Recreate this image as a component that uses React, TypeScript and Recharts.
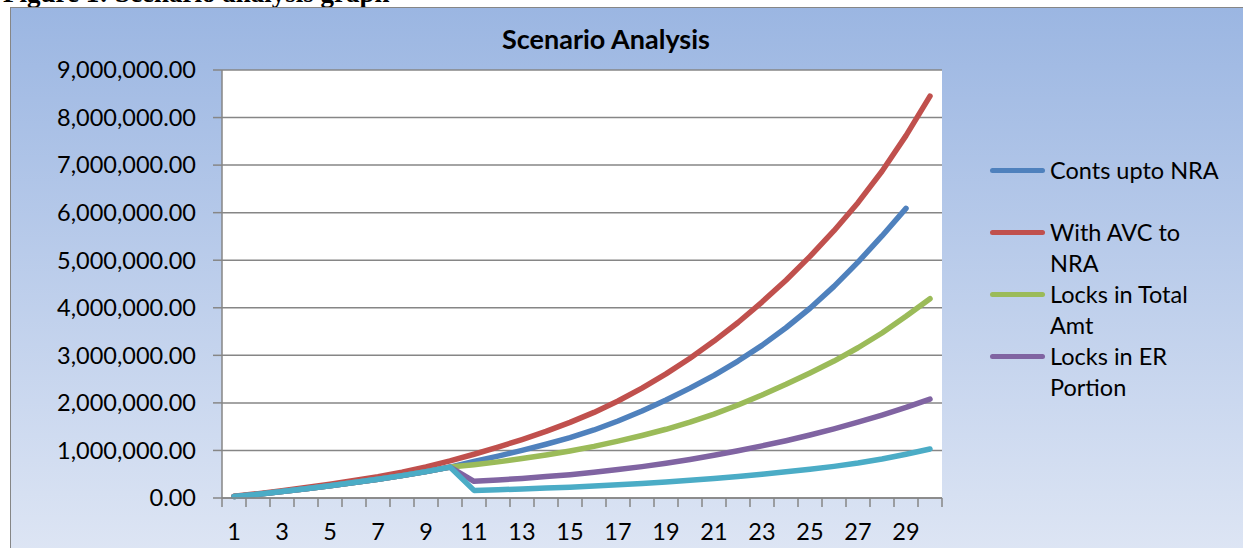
import React from "react";
import { CartesianGrid, Legend, Line, LineChart, XAxis, YAxis } from "recharts";

// policy years on the x axis
const years = [
  1, 2, 3, 4, 5, 6, 7, 8, 9, 10, 11, 12, 13, 14, 15, 16, 17, 18, 19, 20, 21, 22, 23, 24, 25, 26, 27, 28,
  29, 30,
];

// fund values per scenario (blue stops at year 29)
const contsUptoNra = [
  30000, 80000, 135000, 195000, 258000, 325000, 395000, 470000, 555000, 650000, 770000, 880000, 1000000,
  1130000, 1270000, 1430000, 1620000, 1830000, 2060000, 2310000, 2580000, 2880000, 3210000, 3580000,
  3990000, 4450000, 4960000, 5510000, 6090000,
];
const withAvcToNra = [
  35000, 92000, 155000, 222000, 292000, 368000, 450000, 545000, 655000, 780000, 920000, 1070000, 1230000,
  1400000, 1590000, 1800000, 2040000, 2310000, 2610000, 2940000, 3300000, 3690000, 4120000, 4580000,
  5080000, 5620000, 6210000, 6870000, 7620000, 8450000,
];
const locksInTotalAmt = [
  30000, 80000, 135000, 195000, 258000, 325000, 395000, 470000, 555000, 650000, 700000, 760000, 830000,
  905000, 990000, 1085000, 1195000, 1315000, 1445000, 1595000, 1765000, 1955000, 2165000, 2390000,
  2630000, 2880000, 3160000, 3470000, 3820000, 4190000,
];
const locksInErPortion = [
  30000, 80000, 135000, 195000, 258000, 325000, 395000, 470000, 555000, 650000, 350000, 380000, 410000,
  450000, 490000, 540000, 600000, 660000, 730000, 810000, 900000, 995000, 1095000, 1205000, 1325000,
  1455000, 1595000, 1745000, 1905000, 2080000,
];
const series5 = [
  30000, 80000, 135000, 195000, 258000, 325000, 395000, 470000, 555000, 650000, 160000, 175000, 190000,
  208000, 228000, 252000, 278000, 306000, 337000, 372000, 410000, 452000, 498000, 550000, 605000, 665000,
  735000, 820000, 920000, 1030000,
];

const yTicks = [0, 1000000, 2000000, 3000000, 4000000, 5000000, 6000000, 7000000, 8000000, 9000000];

const data = years.map((year, i) => ({
  year,
  conts: contsUptoNra[i] ?? null,
  avc: withAvcToNra[i] ?? null,
  total: locksInTotalAmt[i] ?? null,
  er: locksInErPortion[i] ?? null,
  s5: series5[i] ?? null,
}));

const FONT = "Lato, 'Liberation Sans', sans-serif";
const AXIS = "#868686";
const PLOT_W = 720;
const HALF = PLOT_W / years.length / 2;
const FS = 23.5;

const fmt = (v: number) =>
  v.toLocaleString("en-US", { minimumFractionDigits: 2, maximumFractionDigits: 2 });

function YearTick(props: any) {
  const { x, y, payload } = props;
  const last = payload.value === years[years.length - 1];
  return (
    <g>
      <line x1={x - HALF} x2={x - HALF} y1={y} y2={y + 9} stroke={AXIS} strokeWidth={1.5} />
      {last && <line x1={x + HALF} x2={x + HALF} y1={y} y2={y + 9} stroke={AXIS} strokeWidth={1.5} />}
      {payload.value % 2 === 1 && (
        <text
          x={x}
          y={y + 33}
          textAnchor="middle"
          dominantBaseline="central"
          fontFamily={FONT}
          fontSize={FS}
          fill="#000"
        >
          {payload.value}
        </text>
      )}
    </g>
  );
}

function renderLegend(props: any) {
  const items = (props.payload || []).filter((item: any) => item.type !== "none");
  return (
    <div style={{ fontFamily: FONT, fontSize: FS, color: "#000" }}>
      {items.map((item: any) => (
        <div key={item.value} style={{ display: "flex", alignItems: "flex-start", height: 62 }}>
          <span
            style={{
              flex: "none",
              width: 55,
              height: 5,
              borderRadius: 3,
              background: item.color,
              marginTop: 13,
              marginRight: 5,
            }}
          />
          <span style={{ width: 174, lineHeight: "31px" }}>{item.value}</span>
        </div>
      ))}
    </div>
  );
}

export default function App() {
  return (
    <div style={{ position: "absolute", left: 0, top: 0, width: 1243, height: 548, overflow: "hidden" }}>
      <div
        style={{
          position: "absolute",
          left: 3,
          top: -22,
          fontFamily: "'Liberation Serif', serif",
          fontWeight: "bold",
          fontSize: 27,
          whiteSpace: "nowrap",
        }}
      >
        Figure 1: Scenario analysis graph
      </div>
      <div
        style={{
          position: "absolute",
          left: 10,
          top: 7,
          width: 1260,
          height: 560,
          borderTop: `1.5px solid ${AXIS}`,
          borderLeft: `1.5px solid ${AXIS}`,
          background: "linear-gradient(180deg, #9BB6E2 0%, #DDE5F4 97%)",
        }}
      />
      <div
        style={{
          position: "absolute",
          left: 0,
          width: 1212,
          top: 22,
          textAlign: "center",
          fontFamily: FONT,
          fontWeight: "bold",
          fontSize: 27,
          color: "#000",
        }}
      >
        Scenario Analysis
      </div>
      <div style={{ position: "absolute", left: 0, top: 0 }}>
        <LineChart width={1243} height={548} data={data} margin={{ top: 70, right: 301, bottom: 20, left: 10 }}>
          <CartesianGrid vertical={false} fill="#fff" stroke={AXIS} strokeWidth={1.5} />
          <XAxis
            dataKey="year"
            interval={0}
            height={30}
            padding={{ left: HALF, right: HALF }}
            axisLine={{ stroke: AXIS, strokeWidth: 1.5 }}
            tickLine={false}
            tickSize={0}
            tickMargin={0}
            tick={<YearTick />}
          />
          <YAxis
            width={212}
            domain={[0, 9000000]}
            ticks={yTicks}
            interval={0}
            tickFormatter={fmt}
            axisLine={{ stroke: AXIS, strokeWidth: 1.5 }}
            tickLine={{ stroke: AXIS, strokeWidth: 1.5 }}
            tickSize={9}
            tickMargin={17}
            tick={{ fill: "#000", fontFamily: FONT, fontSize: FS }}
          />
          <Legend
            layout="vertical"
            align="center"
            verticalAlign="middle"
            itemSorter={null}
            wrapperStyle={{ left: 990, top: 155, width: 250 }}
            content={renderLegend}
          />
          <Line type="linear" dataKey="conts" name="Conts upto NRA" stroke="#4F81BD" strokeWidth={5.5} dot={false} strokeLinecap="round" strokeLinejoin="round" isAnimationActive={false} />
          <Line type="linear" dataKey="avc" name="With AVC to NRA" stroke="#C0504D" strokeWidth={5.5} dot={false} strokeLinecap="round" strokeLinejoin="round" isAnimationActive={false} />
          <Line type="linear" dataKey="total" name="Locks in Total Amt" stroke="#9BBB59" strokeWidth={5.5} dot={false} strokeLinecap="round" strokeLinejoin="round" isAnimationActive={false} />
          <Line type="linear" dataKey="er" name="Locks in ER Portion" stroke="#8064A2" strokeWidth={5.5} dot={false} strokeLinecap="round" strokeLinejoin="round" isAnimationActive={false} />
          <Line type="linear" dataKey="s5" name="Series5" legendType="none" stroke="#4BACC6" strokeWidth={5.5} dot={false} strokeLinecap="round" strokeLinejoin="round" isAnimationActive={false} />
        </LineChart>
      </div>
    </div>
  );
}
